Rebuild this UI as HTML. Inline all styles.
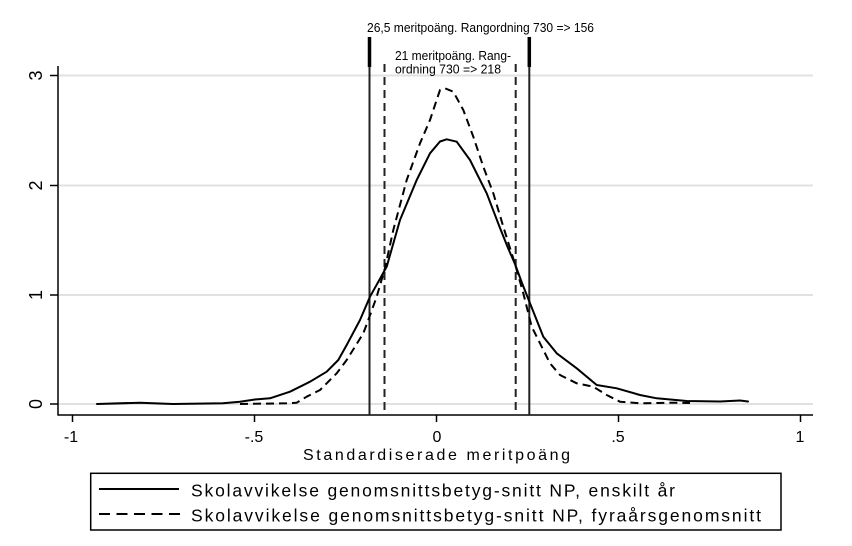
<!DOCTYPE html>
<html>
<head>
<meta charset="utf-8">
<style>
html,body{margin:0;padding:0;background:#fff;}
svg{display:block;}
text{font-family:"Liberation Sans",Arial,sans-serif;fill:#000;}
</style>
</head>
<body>
<svg width="852" height="546" viewBox="0 0 852 546" xmlns="http://www.w3.org/2000/svg">
<rect x="0" y="0" width="852" height="546" fill="#fff"/>
<!-- gridlines -->
<g stroke="#e1e1e1" stroke-width="2">
<line x1="59" y1="75.5" x2="813" y2="75.5"/>
<line x1="59" y1="185.5" x2="813" y2="185.5"/>
<line x1="59" y1="295" x2="813" y2="295"/>
<line x1="59" y1="404" x2="813" y2="404"/>
</g>
<!-- axes -->
<g stroke="#000" stroke-width="1.5" fill="none">
<line x1="58" y1="66" x2="58" y2="415.5"/>
<line x1="57.5" y1="415" x2="813" y2="415"/>
<line x1="50" y1="75.5" x2="58" y2="75.5"/>
<line x1="50" y1="185.5" x2="58" y2="185.5"/>
<line x1="50" y1="295" x2="58" y2="295"/>
<line x1="50" y1="404" x2="58" y2="404"/>
<line x1="72.5" y1="415" x2="72.5" y2="422"/>
<line x1="254.5" y1="415" x2="254.5" y2="422"/>
<line x1="436.5" y1="415" x2="436.5" y2="422"/>
<line x1="618.5" y1="415" x2="618.5" y2="422"/>
<line x1="800.5" y1="415" x2="800.5" y2="422"/>
</g>
<!-- y labels -->
<g font-size="18" text-anchor="middle">
<text transform="translate(42,75.5) rotate(-90)">3</text>
<text transform="translate(42,185.5) rotate(-90)">2</text>
<text transform="translate(42,295) rotate(-90)">1</text>
<text transform="translate(42,404) rotate(-90)">0</text>
</g>
<!-- x labels -->
<g font-size="16" text-anchor="middle">
<text x="71" y="442">-1</text>
<text x="254" y="442">-.5</text>
<text x="437" y="442">0</text>
<text x="618" y="442">.5</text>
<text x="800" y="442">1</text>
</g>
<text x="303" y="460" font-size="16" textLength="267" lengthAdjust="spacing">Standardiserade meritpoäng</text>

<!-- vertical reference lines -->
<g stroke="#222" stroke-width="2">
<line x1="369.5" y1="37" x2="369.5" y2="415"/>
<line x1="529.3" y1="37" x2="529.3" y2="415"/>
</g>
<g stroke="#000" stroke-width="3.5">
<line x1="369.5" y1="37" x2="369.5" y2="67"/>
<line x1="529.3" y1="37" x2="529.3" y2="67"/>
</g>
<g stroke="#222" stroke-width="2" stroke-dasharray="8 5">
<line x1="384.5" y1="64" x2="384.5" y2="415"/>
<line x1="515.7" y1="64" x2="515.7" y2="415"/>
</g>

<!-- annotations -->
<g font-size="12.5">
<text x="367" y="32" textLength="227" lengthAdjust="spacingAndGlyphs">26,5 meritpoäng. Rangordning 730 =&gt; 156</text>
<text x="395" y="60" textLength="116" lengthAdjust="spacingAndGlyphs">21 meritpoäng. Rang-</text>
<text x="395" y="73.5" textLength="106" lengthAdjust="spacingAndGlyphs">ordning 730 =&gt; 218</text>
</g>

<!-- solid curve -->
<polyline fill="none" stroke="#000" stroke-width="2" stroke-linejoin="round" stroke-linecap="round"
points="97,404 140,402.7 173,404 223,403.3 240,401.7 255,399.5 270,398.3 290,391.7 310,381.7 326.7,371.7 338.3,360 346.7,345 360,320 370,296.7 386.7,266.7 400,220 416.7,180 430,153.3 440,141.5 446.7,139.3 456.7,141.7 470,160 486.7,193.3 500,228 508,248 515,264 522,283 530,303.3 543.3,336.7 556.7,353.3 576.7,368.3 596.7,385 616.7,388.3 640,395 656.7,398.3 686.7,401 720,401.5 740,400.5 748,401.5"/>
<!-- dashed curve -->
<polyline fill="none" stroke="#000" stroke-width="2" stroke-linejoin="round" stroke-dasharray="8 5"
points="240,404 286.7,403.3 296.7,402.7 306.7,396.7 320,390 326.7,383.3 336.7,373.3 346.7,360 363.3,333.3 368.3,320 376.7,296.7 385,268 393.3,230 406.7,180 420,143.3 430,120 440,90 445,88.3 453.3,91.7 463.3,110 473.3,136.7 483.3,166.7 493.3,193.3 503.3,226.7 515,264 523.3,293.3 531.7,326.7 540,343.3 550,363.3 560,375 576.7,383.3 593.3,386.7 606.7,395 620,401.7 640,403.3 670,402.7 690,403"/>

<!-- legend -->
<rect x="90.7" y="473.3" width="690.3" height="56.7" fill="#fff" stroke="#000" stroke-width="1.5"/>
<line x1="99" y1="489" x2="179" y2="489" stroke="#000" stroke-width="2"/>
<line x1="99" y1="514" x2="181" y2="514" stroke="#000" stroke-width="2" stroke-dasharray="11 6.5"/>
<g font-size="17.5">
<text x="191" y="496.7" textLength="484" lengthAdjust="spacing">Skolavvikelse genomsnittsbetyg-snitt NP, enskilt år</text>
<text x="191" y="521.7" textLength="570" lengthAdjust="spacing">Skolavvikelse genomsnittsbetyg-snitt NP, fyraårsgenomsnitt</text>
</g>
</svg>
</body>
</html>
